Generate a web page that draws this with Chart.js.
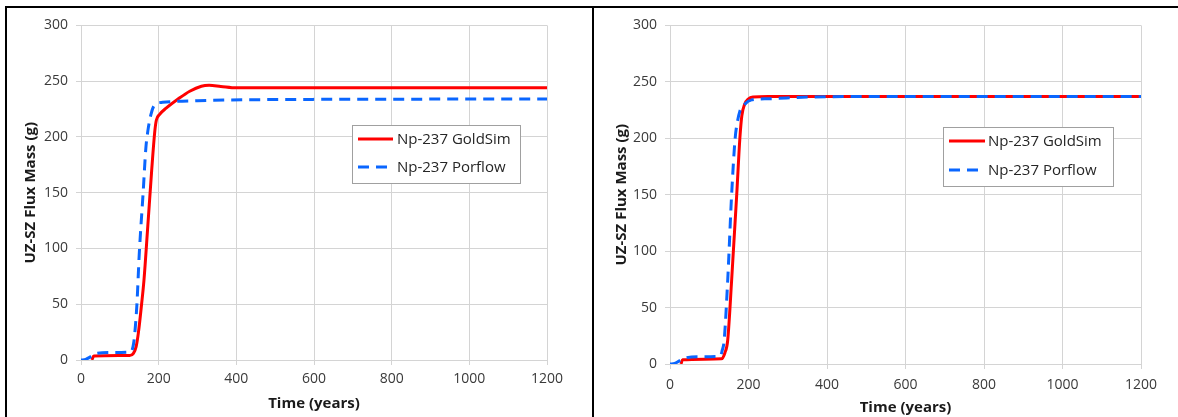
<!DOCTYPE html>
<html>
<head>
<meta charset="utf-8">
<script src="https://cdn.jsdelivr.net/npm/chart.js@4.4.1/dist/chart.umd.min.js"></script>
<style>
  html, body { margin: 0; padding: 0; background: #fff; }
  body { width: 1178px; height: 417px; position: relative; overflow: hidden; }
  .rule { position: absolute; background: #000; }
  .panel { position: absolute; }
</style>
</head>
<body>
<div class="rule" style="left:5px;top:6px;width:1173px;height:2px"></div>
<div class="rule" style="left:5px;top:6px;width:2px;height:411px"></div>
<div class="rule" style="left:592px;top:6px;width:2px;height:411px"></div>
<div class="panel" style="left:8px;top:9px;width:583px;height:408px"><canvas id="chart-left"></canvas></div>
<div class="panel" style="left:594px;top:9px;width:584px;height:408px"><canvas id="chart-right"></canvas></div>

<script>
/* ===== Np-237 UZ-SZ flux mass, GoldSim vs Porflow ===== */

// [time (years), mass (g)]
const LEFT_GOLDSIM = [
  [28, 0], [33, 3.6], [125, 4], [135, 6], [142, 12], [148, 25], [156, 50], [162, 71],
  [172, 120], [182, 170], [190, 205], [194, 215], [202, 220], [220, 226], [250, 234],
  [280, 241], [310, 245.5], [330, 246.3], [360, 245.3], [400, 244], [1200, 244],
];
const LEFT_PORFLOW = [
  [0, 0], [12, 0.5], [25, 3], [40, 6], [80, 6.8], [128, 7.2], [134, 12], [138, 22],
  [144, 50], [150, 95], [160, 150], [167, 190], [172, 205], [180, 220], [190, 229],
  [210, 231], [300, 232.5], [500, 233.5], [1200, 234],
];
const RIGHT_GOLDSIM = [
  [28, 0], [32, 3.8], [131, 4.6], [140, 10], [147, 21], [157, 74], [170, 150],
  [178, 200], [183, 220], [190, 230], [200, 235], [212, 236.5], [250, 237], [1200, 237],
];
const RIGHT_PORFLOW = [
  [0, 0], [12, 0.5], [25, 3], [40, 5.5], [80, 6.5], [128, 7], [133, 12], [138, 21],
  [147, 74], [157, 150], [166, 200], [172, 215], [178, 224], [190, 230], [208, 234],
  [250, 235], [350, 236.5], [500, 237], [1200, 237],
];

const SERIES_LABELS = ['Np-237 GoldSim', 'Np-237 Porflow'];
const X_TITLE = 'Time (years)';
const Y_TITLE = 'UZ-SZ Flux Mass (g)';
const X_MIN = 0, X_MAX = 1200, X_STEP = 200;
const Y_MIN = 0, Y_MAX = 300, Y_STEP = 50;

const RED = '#ff0000';
const BLUE = '#0a66ff';
const GRID = '#d4d4d4';
const FONT = "'Open Sans', 'DejaVu Sans', sans-serif";

const toPoints = arr => arr.map(([x, y]) => ({ x, y }));

/* ---------- legend box drawn inside the plot ---------- */
const legendBox = {
  id: 'legendBox',
  afterDatasetsDraw(chart, args, opts) {
    const { ctx } = chart;
    const b = opts.box;
    ctx.save();
    ctx.fillStyle = '#fff';
    ctx.fillRect(b.x, b.y, b.w, b.h);
    ctx.strokeStyle = '#a0a0a0';
    ctx.lineWidth = 1;
    ctx.strokeRect(b.x + 0.5, b.y + 0.5, b.w, b.h);
    chart.data.datasets.forEach((ds, i) => {
      const y = b.y + opts.rows[i];
      ctx.strokeStyle = ds.borderColor;
      ctx.lineWidth = ds.borderWidth;
      ctx.setLineDash(ds.borderDash || []);
      ctx.beginPath();
      ctx.moveTo(b.x + opts.lineX, y);
      ctx.lineTo(b.x + opts.lineX + opts.lineLen, y);
      ctx.stroke();
      ctx.setLineDash([]);
      ctx.fillStyle = '#262626';
      ctx.font = '15px ' + FONT;
      ctx.textBaseline = 'middle';
      ctx.fillText(ds.label, b.x + opts.textX, y + 1);
    });
    ctx.restore();
  },
};

function makeChart(id, goldsim, porflow, g) {
  new Chart(document.getElementById(id), {
    type: 'line',
    data: {
      datasets: [
        {
          label: SERIES_LABELS[0],
          data: toPoints(goldsim),
          borderColor: RED,
          borderWidth: 3,
          pointRadius: 0,
          cubicInterpolationMode: 'monotone',
          order: 1,
        },
        {
          label: SERIES_LABELS[1],
          data: toPoints(porflow),
          borderColor: BLUE,
          borderWidth: 3,
          borderDash: [11, 7],
          pointRadius: 0,
          cubicInterpolationMode: 'monotone',
          order: 0,
        },
      ],
    },
    options: {
      responsive: true,
      maintainAspectRatio: false,
      animation: false,
      layout: { padding: { top: g.padTop, right: g.padRight, left: 0, bottom: 0 } },
      scales: {
        x: {
          type: 'linear',
          min: X_MIN, max: X_MAX,
          afterFit: s => { s.height = g.xh; },
          ticks: {
            stepSize: X_STEP, padding: g.xTickPad, color: '#3a3a3a',
            font: { family: FONT, size: 14 },
            callback: v => String(v),
          },
          grid: { color: GRID, tickLength: 5, lineWidth: 1 },
          border: { color: GRID },
          title: {
            display: true, text: X_TITLE, color: '#1a1a1a',
            font: { family: FONT, size: 15, weight: 'bold' },
            padding: { top: 0, bottom: g.xTitlePad },
          },
        },
        y: {
          min: Y_MIN, max: Y_MAX,
          afterFit: s => { s.width = g.yw; },
          ticks: { stepSize: Y_STEP, padding: 8, color: '#3a3a3a', font: { family: FONT, size: 14 } },
          grid: { color: GRID, tickLength: 5, lineWidth: 1 },
          border: { color: GRID },
          title: {
            display: true, text: Y_TITLE, color: '#1a1a1a',
            font: { family: FONT, size: 15, weight: 'bold' },
            padding: { top: g.yTitlePad, bottom: 0 },
          },
        },
      },
      plugins: {
        legend: { display: false },
        tooltip: { enabled: false },
        legendBox: g.legend,
      },
    },
    plugins: [legendBox],
  });
}

/* ---------- Init ---------- */
makeChart('chart-left', LEFT_GOLDSIM, LEFT_PORFLOW, {
  padTop: 15, padRight: 44, yw: 73, xh: 57, xTickPad: 6, xTitlePad: 4, yTitlePad: 14,
  legend: { box: { x: 344, y: 116, w: 168, h: 58 }, rows: [14, 42], lineX: 6, lineLen: 35, textX: 45 },
});
makeChart('chart-right', RIGHT_GOLDSIM, RIGHT_PORFLOW, {
  padTop: 15, padRight: 37, yw: 76, xh: 53, xTickPad: 8, xTitlePad: 0, yTitlePad: 19,
  legend: { box: { x: 349, y: 118, w: 170, h: 59 }, rows: [14, 43], lineX: 6, lineLen: 36, textX: 45 },
});
</script>
</body>
</html>
